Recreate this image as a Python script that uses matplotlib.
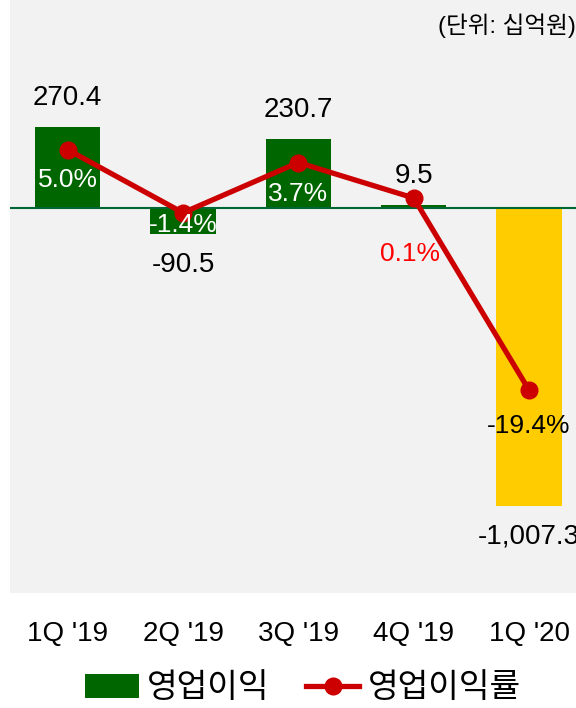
import matplotlib

matplotlib.use("Agg")
import matplotlib.pyplot as plt  # noqa: E402
from matplotlib.lines import Line2D  # noqa: E402
from matplotlib.patches import Patch  # noqa: E402

quarters = ["1Q '19", "2Q '19", "3Q '19", "4Q '19", "1Q '20"]
op_profit = [270.4, -90.5, 230.7, 9.5, -1007.3]
op_margin = [5.0, -1.4, 3.7, 0.1, -19.4]
profit_labels = ["270.4", "-90.5", "230.7", "9.5", "-1,007.3"]
margin_labels = ["5.0%", "-1.4%", "3.7%", "0.1%", "-19.4%"]

# label placement / colours (offsets in points)
margin_offsets = [(0, -22), (0, -9), (0, -23), (-3, -40), (0, -26)]
margin_colors = ["white", "white", "white", "#ff0000", "black"]
bar_colors = ["#006600", "#006600", "#006600", "#006600", "#ffcc00"]

GREEN = "#006600"
RED = "#cc0000"
BG = "#f2f2f2"

plt.rcParams["font.family"] = [
    "Liberation Sans Narrow",
    "Liberation Sans",
    "Noto Sans CJK KR",
    "DejaVu Sans",
]

W, H = 576, 708
fig = plt.figure(figsize=(W / 100, H / 100), dpi=100)
ax = fig.add_axes([10 / W, 1 - 593 / H, 576.7 / W, 593 / H])
ax.set_facecolor(BG)
for s in ax.spines.values():
    s.set_visible(False)

x = list(range(len(quarters)))
ax.bar(x, op_profit, width=0.565, color=bar_colors, zorder=2)
ax.axhline(0, color="#006633", linewidth=1.5, zorder=3)
ax.set_xlim(-0.5, len(quarters) - 0.5)
ax.set_ylim(-1300, 700)
ax.set_yticks([])
ax.set_xticks(x)
ax.set_xticklabels(quarters, fontsize=20)
ax.tick_params(axis="x", length=0, pad=20)

for xi, v, lab in zip(x, op_profit, profit_labels):
    ax.annotate(
        lab,
        (xi, v),
        xytext=(0, 21 if v >= 0 else -22),
        textcoords="offset points",
        ha="center",
        va="center",
        fontsize=20,
        color="black",
        zorder=5,
    )

ax2 = ax.twinx()
for s in ax2.spines.values():
    s.set_visible(False)
ax2.set_ylim(-40, 20.2)
ax2.set_yticks([])
ax2.plot(
    x,
    op_margin,
    color=RED,
    linewidth=3.8,
    marker="o",
    markersize=12,
    zorder=4,
)
for xi, v, lab, off, c in zip(x, op_margin, margin_labels, margin_offsets, margin_colors):
    ax2.annotate(
        lab,
        (xi, v),
        xytext=off,
        textcoords="offset points",
        ha="center",
        va="center",
        fontsize=19,
        color=c,
        zorder=5,
    )

fig.text(1.0, 1 - 26 / H, "(단위: 십억원)", ha="right", va="center", fontsize=17)

handles = [
    Patch(facecolor=GREEN, edgecolor="none"),
    Line2D([0], [0], color=RED, linewidth=3.8, marker="o", markersize=12),
]
fig.legend(
    handles,
    ["영업이익", "영업이익률"],
    loc="center",
    bbox_to_anchor=(303 / W, 1 - 689 / H),
    ncol=2,
    frameon=False,
    fontsize=24,
    handlelength=1.6,
    handletextpad=0.25,
    columnspacing=1.1,
    borderpad=0,
)

fig.savefig("out.png", dpi=100)
